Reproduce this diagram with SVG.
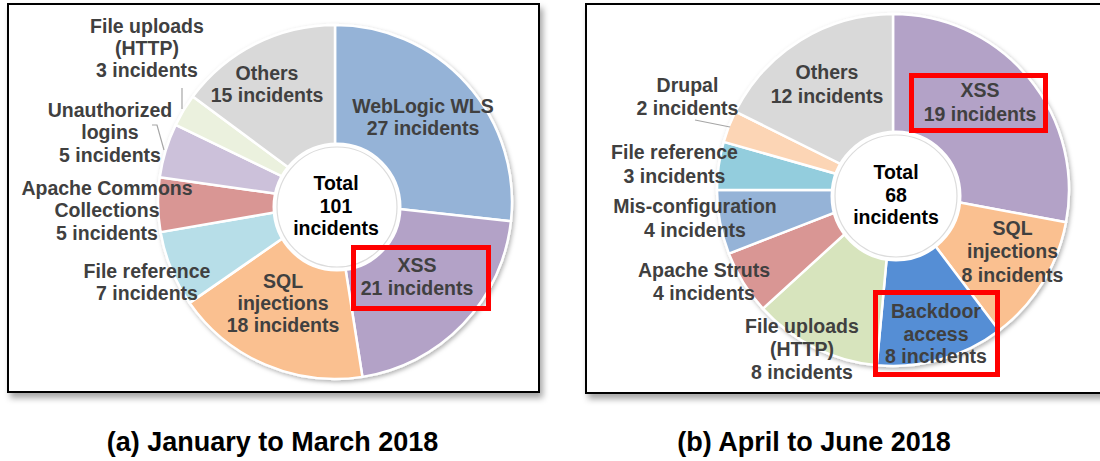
<svg xmlns="http://www.w3.org/2000/svg" width="1100" height="461" viewBox="0 0 1100 461">
<defs>
<filter id="fshadow" x="-5%" y="-5%" width="115%" height="115%">
<feDropShadow dx="3" dy="5" stdDeviation="3" flood-color="#000" flood-opacity="0.35"/>
</filter>
<filter id="dshadow" x="-10%" y="-10%" width="120%" height="120%">
<feDropShadow dx="1.5" dy="2" stdDeviation="2" flood-color="#000" flood-opacity="0.3"/>
</filter>
<style>
.frame{fill:#fff;stroke:#000;stroke-width:2}
.sl{stroke:#fff;stroke-width:2.5;stroke-linejoin:round}
.lbl{font-family:"Liberation Sans",Arial,sans-serif;font-weight:bold;font-size:19.5px;fill:#404040;text-anchor:middle}
.tot{font-family:"Liberation Sans",Arial,sans-serif;font-weight:bold;font-size:19.5px;fill:#000;text-anchor:middle}
.cap{font-family:"Liberation Sans",Arial,sans-serif;font-weight:bold;font-size:27px;fill:#000;text-anchor:middle}
.hole{fill:#fff;stroke:#fff;stroke-width:3}
.holeedge{fill:none;stroke:#dcdcdc;stroke-width:1.2}
.box{fill:none;stroke:#ff0000;stroke-width:5}
.lead{fill:none;stroke:#a6a6a6;stroke-width:1.2}
</style>
</defs>
<g id="frames">
<rect id="frame-a" class="frame" x="8" y="4" width="531" height="388" filter="url(#fshadow)"/>
<rect id="frame-b" class="frame" x="586" y="4" width="520" height="389" filter="url(#fshadow)"/>
</g>
<g id="chart-a">
<g id="slices-a" filter="url(#dshadow)">
<path id="a-weblogic" class="sl" fill="#95B3D7" d="M335,202 L335,25 A177,177 0 0 1 510.95,221.23 Z"/>
<path id="a-xss" class="sl" fill="#B3A2C7" d="M335,202 L510.95,221.23 A177,177 0 0 1 362.42,376.86 Z"/>
<path id="a-sql" class="sl" fill="#FAC090" d="M335,202 L362.42,376.86 A177,177 0 0 1 189.55,302.86 Z"/>
<path id="a-fileref" class="sl" fill="#B7DEE8" d="M335,202 L189.55,302.86 A177,177 0 0 1 160.58,232.14 Z"/>
<path id="a-apache" class="sl" fill="#D99694" d="M335,202 L160.58,232.14 A177,177 0 0 1 159.73,177.31 Z"/>
<path id="a-unauth" class="sl" fill="#CCC1DA" d="M335,202 L159.73,177.31 A177,177 0 0 1 175.70,124.84 Z"/>
<path id="a-fileup" class="sl" fill="#EBF1DE" d="M335,202 L175.70,124.84 A177,177 0 0 1 192.79,96.62 Z"/>
<path id="a-others" class="sl" fill="#D9D9D9" d="M335,202 L192.79,96.62 A177,177 0 0 1 335,25 Z"/>
</g>
<g id="a-total">
<circle class="hole" cx="337" cy="207" r="63"/>
<circle class="holeedge" cx="337" cy="207" r="60"/>
<text class="tot"><tspan x="336" y="190">Total</tspan><tspan x="336" y="212.5">101</tspan><tspan x="336" y="235">incidents</tspan></text>
</g>
<g id="a-lbl-fileup"><text class="lbl"><tspan x="147" y="33">File uploads</tspan><tspan x="147" y="55">(HTTP)</tspan><tspan x="147" y="77">3 incidents</tspan></text></g>
<g id="a-lbl-unauth"><text class="lbl"><tspan x="110" y="117">Unauthorized</tspan><tspan x="110" y="139">logins</tspan><tspan x="110" y="162">5 incidents</tspan></text></g>
<g id="a-lbl-apache"><text class="lbl"><tspan x="107" y="195">Apache Commons</tspan><tspan x="107" y="217">Collections</tspan><tspan x="107" y="240">5 incidents</tspan></text></g>
<g id="a-lbl-fileref"><text class="lbl"><tspan x="147" y="278">File reference</tspan><tspan x="147" y="300">7 incidents</tspan></text></g>
<g id="a-lbl-others"><text class="lbl"><tspan x="267" y="80">Others</tspan><tspan x="267" y="102">15 incidents</tspan></text></g>
<g id="a-lbl-weblogic"><text class="lbl"><tspan x="423" y="113">WebLogic WLS</tspan><tspan x="423" y="135">27 incidents</tspan></text></g>
<g id="a-lbl-xss"><text class="lbl"><tspan x="417" y="272">XSS</tspan><tspan x="417" y="295">21 incidents</tspan></text>
<rect class="box" x="353.5" y="247.5" width="135" height="61"/></g>
<g id="a-lbl-sql"><text class="lbl"><tspan x="283" y="288">SQL</tspan><tspan x="283" y="310">injections</tspan><tspan x="283" y="332">18 incidents</tspan></text></g>
</g>
<g id="chart-b">
<g id="slices-b" filter="url(#dshadow)">
<path id="b-xss" class="sl" fill="#B3A2C7" d="M893,190 L893,14 A176,176 0 0 1 1066.00,222.34 Z"/>
<path id="b-sql" class="sl" fill="#FAC090" d="M893,190 L1066.00,222.34 A176,176 0 0 1 999.06,330.45 Z"/>
<path id="b-backdoor" class="sl" fill="#558ED5" d="M893,190 L999.06,330.45 A176,176 0 0 1 876.76,365.25 Z"/>
<path id="b-fileup" class="sl" fill="#D7E4BD" d="M893,190 L876.76,365.25 A176,176 0 0 1 762.93,308.57 Z"/>
<path id="b-struts" class="sl" fill="#D99694" d="M893,190 L762.93,308.57 A176,176 0 0 1 728.89,253.58 Z"/>
<path id="b-misconf" class="sl" fill="#95B3D7" d="M893,190 L728.89,253.58 A176,176 0 0 1 717,190 Z"/>
<path id="b-fileref" class="sl" fill="#93CDDD" d="M893,190 L717,190 A176,176 0 0 1 723.72,141.84 Z"/>
<path id="b-drupal" class="sl" fill="#FCD5B5" d="M893,190 L723.72,141.84 A176,176 0 0 1 735.45,111.55 Z"/>
<path id="b-others" class="sl" fill="#D9D9D9" d="M893,190 L735.45,111.55 A176,176 0 0 1 893,14 Z"/>
</g>
<g id="b-total">
<circle class="hole" cx="896" cy="196" r="64"/>
<circle class="holeedge" cx="896" cy="196" r="61"/>
<text class="tot"><tspan x="896" y="179">Total</tspan><tspan x="896" y="202">68</tspan><tspan x="896" y="224">incidents</tspan></text>
</g>
<g id="b-lbl-drupal"><text class="lbl"><tspan x="687.5" y="92">Drupal</tspan><tspan x="687.5" y="115">2 incidents</tspan></text></g>
<g id="b-lbl-fileref"><text class="lbl"><tspan x="674.5" y="159">File reference</tspan><tspan x="674.5" y="183">3 incidents</tspan></text></g>
<g id="b-lbl-misconf"><text class="lbl"><tspan x="695" y="213">Mis-configuration</tspan><tspan x="695" y="237">4 incidents</tspan></text></g>
<g id="b-lbl-struts"><text class="lbl"><tspan x="704" y="277">Apache Struts</tspan><tspan x="704" y="300">4 incidents</tspan></text></g>
<g id="b-lbl-fileup"><text class="lbl"><tspan x="802" y="333">File uploads</tspan><tspan x="802" y="356">(HTTP)</tspan><tspan x="802" y="379">8 incidents</tspan></text></g>
<g id="b-lbl-backdoor"><text class="lbl"><tspan x="936" y="318">Backdoor</tspan><tspan x="936" y="341">access</tspan><tspan x="936" y="363">8 incidents</tspan></text>
<rect class="box" x="875.5" y="292.5" width="122" height="82"/></g>
<g id="b-lbl-sql"><text class="lbl"><tspan x="1012.5" y="235">SQL</tspan><tspan x="1012.5" y="258">injections</tspan><tspan x="1012.5" y="282">8 incidents</tspan></text></g>
<g id="b-lbl-xss"><text class="lbl"><tspan x="980" y="97">XSS</tspan><tspan x="980" y="121">19 incidents</tspan></text>
<rect class="box" x="911.5" y="75.5" width="134" height="55"/></g>
<g id="b-lbl-others"><text class="lbl"><tspan x="827" y="79">Others</tspan><tspan x="827" y="103">12 incidents</tspan></text></g>
</g>
<g id="connectors">
<polyline class="lead" points="182,88 182,109"/>
<polyline class="lead" points="152,125 157,125 164,150"/>
<polyline class="lead" points="695,120 730,127"/>
</g>
<g id="captions">
<text class="cap" x="272.5" y="451">(a) January to March 2018</text>
<text class="cap" x="814" y="451">(b) April to June 2018</text>
</g>
</svg>
